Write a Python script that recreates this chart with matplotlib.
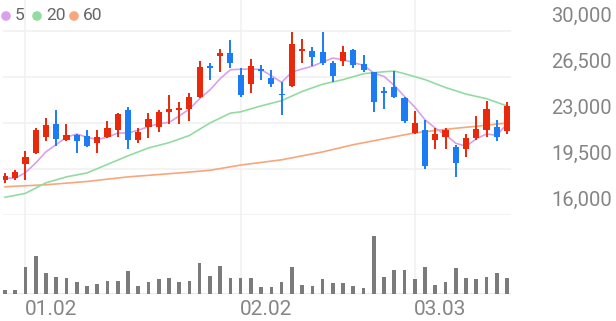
import matplotlib
matplotlib.use("Agg")
import matplotlib.pyplot as plt
import numpy as np
import pandas as pd

plt.rcParams["font.family"] = ["Roboto", "DejaVu Sans"]

# daily candles (won)
opens = [18650, 18850, 19900, 20700, 21950, 22900, 21700, 22050, 22000, 21500,
         21950, 22500, 24000, 21700, 22700, 22700, 23800, 24000, 24050, 24950,
         27300, 28100, 28300, 26650, 25950, 27100, 26400, 25200, 25800, 28500,
         28500, 28400, 27550, 27750, 28550, 27500, 26850, 25450, 25750, 24900,
         22250, 22500, 21700, 21950, 21200, 21000, 21850, 22500, 22700, 22400]
highs = [19200, 19400, 20900, 22650, 23350, 24000, 22900, 22150, 22450, 22450,
         23150, 23750, 24250, 22600, 23750, 24000, 25100, 24600, 25250, 27700,
         27550, 28600, 29350, 27150, 27850, 27400, 27000, 26150, 29900, 29400,
         28750, 29900, 27700, 28850, 28600, 28150, 26900, 25750, 26950, 25000,
         23950, 23250, 22650, 22600, 21350, 22200, 23550, 24700, 23250, 24600]
lows = [18400, 18700, 18700, 20650, 21650, 21250, 21600, 20750, 21200, 20750,
        21850, 21950, 21000, 21450, 21850, 22300, 22950, 22950, 23150, 24900,
        26300, 26900, 27150, 25000, 25250, 26250, 25750, 23600, 25750, 27600,
        27300, 27400, 26100, 27350, 27150, 26900, 23850, 24050, 24900, 23000,
        22200, 19500, 21000, 21000, 18900, 20450, 21700, 21900, 21650, 22150]
closes = [19000, 19300, 20450, 22450, 22850, 21750, 22100, 21650, 21250, 21950,
          22650, 23650, 21700, 22300, 23300, 23850, 24050, 24150, 24950, 27250,
          27150, 28350, 27550, 25150, 27350, 26950, 25950, 25100, 29000, 28550,
          28000, 27550, 26600, 28400, 27400, 27000, 24600, 25300, 25000, 23150,
          23000, 19750, 22150, 22450, 19950, 21850, 22550, 24050, 21900, 24300]
prior_closes = [19300, 18300, 18800, 18600]  # the 4 sessions before the window, for MA5

# volume, thousand shares
volumes = [40, 40, 267, 383, 207, 173, 163, 120, 83, 103,
           127, 127, 230, 77, 117, 147, 160, 117, 133, 307,
           177, 280, 160, 163, 163, 67, 67, 120, 273, 87,
           77, 147, 107, 107, 80, 57, 583, 170, 240, 237,
           150, 270, 87, 120, 263, 157, 153, 170, 207, 163]

# longer averages (session index, price)
ma20_idx = [0, 2, 4, 6, 8, 10, 12, 14, 16, 18, 20, 22, 23, 25, 27, 29, 31, 33,
            35, 37, 38, 39, 41, 43, 45, 47, 49]
ma20_val = [17350, 17650, 18450, 18900, 19200, 19850, 20500, 21100, 21500, 22050,
            23000, 23750, 23850, 24300, 24700, 25400, 25950, 26300,
            26750, 26900, 26950, 26750, 26300, 25700, 25200, 24850, 24300]
ma60_idx = [0, 4, 8, 12, 17, 20, 23, 27, 31, 34, 37, 40, 44, 46, 49]
ma60_val = [18150, 18300, 18550, 18900, 19200, 19400, 19800, 20200, 20800,
            21350, 21800, 22250, 22600, 22750, 23000]

price_ticks = [16000, 19500, 23000, 26500, 30000]
date_idx = [2, 23, 40]
date_labels = ["01.02", "02.02", "03.03"]

UP, DOWN = "#e8290b", "#1c7cf4"
C5, C20, C60 = "#d9a0ec", "#92dca0", "#f8a67c"
GRID = "#f1f1f1"
TXT = "#858585"

W, H = 616, 321
fig = plt.figure(figsize=(W / 100, H / 100), dpi=100)


def px_box(x0, y0, x1, y1):
    return [x0 / W, 1 - y1 / H, (x1 - x0) / W, (y1 - y0) / H]


n = len(closes)
idx = np.arange(n)
xlim = (-0.195, 49.39)

ax = fig.add_axes(px_box(3, 25, 511, 215))
vax = fig.add_axes(px_box(3, 215, 511, 294))
for a in (ax, vax):
    a.set_xlim(*xlim)
    a.axis("off")
ax.set_ylim(16000, 30456)
vax.set_ylim(0, 790)

for t in price_ticks:
    ax.axhline(t, color=GRID, lw=1.2, zorder=0)
vax.axhline(0, color="#e6e6e6", lw=1.2, zorder=0)
for d in date_idx:
    ax.axvline(d, ymin=0, ymax=215 / 190, color=GRID, lw=1.2, zorder=0, clip_on=False)
    vax.axvline(d, color=GRID, lw=1.2, zorder=0)

# moving averages
ma5 = pd.Series(prior_closes + closes).rolling(5).mean().to_numpy()[len(prior_closes):]
ax.plot(ma60_idx, ma60_val, color=C60, lw=1.2, zorder=1)
ax.plot(ma20_idx, ma20_val, color=C20, lw=1.2, zorder=1)
ax.plot(idx, ma5, color=C5, lw=1.2, zorder=1)

# candles
o, h, l, c = map(np.array, (opens, highs, lows, closes))
cols = np.where(c >= o, UP, DOWN)
ax.vlines(idx, l, h, colors=cols, lw=1.4, zorder=2)
body = np.maximum(np.abs(c - o), 120)
ax.bar(idx, body, bottom=np.minimum(o, c), width=0.6, color=cols, zorder=3)

vax.bar(idx, volumes, width=0.36, color="#7b7b7b", zorder=2)

for t in price_ticks:
    ax.annotate(f"{t:,}", xy=(612 / W, t), xycoords=("figure fraction", "data"),
                xytext=(0, 3.5), textcoords="offset points", ha="right", va="bottom",
                fontsize=14.5, color=TXT)
for d, lab in zip(date_idx, date_labels):
    vax.annotate(lab, xy=(d, 0), xycoords=("data", "axes fraction"),
                 xytext=(-0.5, -4.5), textcoords="offset points", ha="left", va="top",
                 fontsize=15, color=TXT)

# legend
lax = fig.add_axes([0, 0, 1, 1])
lax.set_xlim(0, W)
lax.set_ylim(H, 0)
lax.axis("off")
for cx, tx, col, lab in [(6, 15, C5, "5"), (37, 46, C20, "20"), (74, 82.5, C60, "60")]:
    lax.scatter([cx], [16], s=48, color=col, edgecolors="none")
    lax.text(tx, 16, lab, fontsize=12.5, color="#666666", va="center", ha="left")

fig.savefig("out.png", dpi=100)
